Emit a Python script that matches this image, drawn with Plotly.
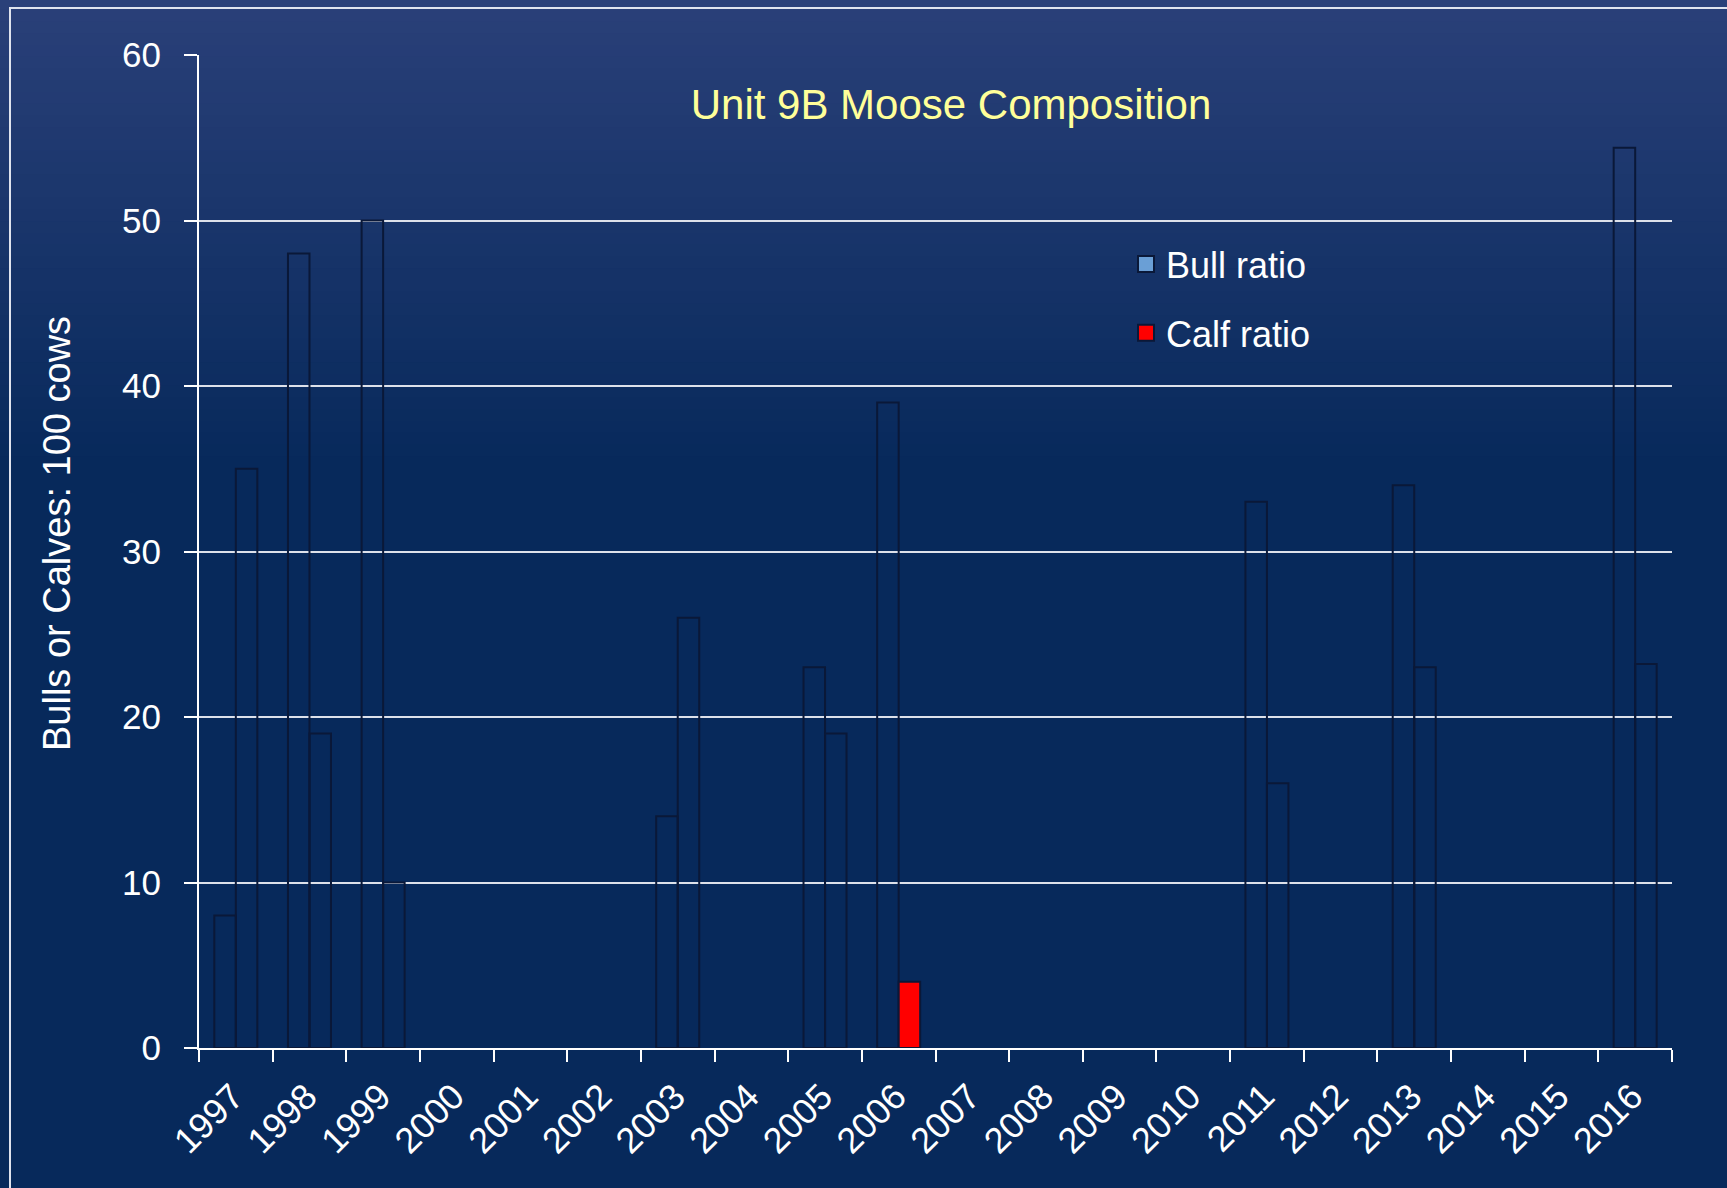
import plotly.graph_objects as go

# ---------------- data ----------------
years = [str(y) for y in range(1997, 2017)]
bull_ratio = [8, 48, 50, None, None, None, 14, None, 23, 39, None, None, None, None, 33, None, 34, None, None, 54.4]
calf_ratio = [35, 19, 10, None, None, None, 26, None, 19, 4, None, None, None, None, 16, None, 23, None, None, 23.2]
y_ticks = [0, 10, 20, 30, 40, 50, 60]

# ---------------- styling ----------------
W, H = 1727, 1188
ML, MR, MT, MB = 199, 55, 55, 140
PW, PH = W - ML - MR, H - MT - MB
FONT = "Liberation Sans Narrow, Arial Narrow, Liberation Sans, Arial, sans-serif"
OUTLINE = "#0a1838"
BG_BOTTOM = (7, 41, 91)
BG_TOP = (42, 64, 121)


def px_x(x):
    return (x - ML) / PW


def px_y(y):
    return (H - MB - y) / PH


calf_colors = ["#ff0000" if y == "2006" else "rgba(0,0,0,0)" for y in years]

fig = go.Figure()
fig.add_trace(go.Bar(
    x=years, y=bull_ratio, name="Bull ratio", showlegend=False,
    marker=dict(color="rgba(0,0,0,0)", line=dict(color=OUTLINE, width=2)),
))
fig.add_trace(go.Bar(
    x=years, y=calf_ratio, name="Calf ratio", showlegend=False,
    marker=dict(color=calf_colors, line=dict(color=OUTLINE, width=2)),
))
# legend entries
fig.add_trace(go.Scatter(
    x=[None], y=[None], mode="markers", name="Bull ratio", legendgroup="a",
    marker=dict(symbol="square", size=16, color="#6a9fd6", line=dict(color=OUTLINE, width=2)),
))
fig.add_trace(go.Scatter(
    x=[None], y=[None], mode="markers", name="Calf ratio", legendgroup="b",
    marker=dict(symbol="square", size=16, color="#ff0000", line=dict(color=OUTLINE, width=2)),
))

# gradient background bands
shapes = []
N = 40
GRAD_END = 470
for i in range(N):
    y0 = GRAD_END * i / N
    y1 = GRAD_END * (i + 1) / N + 1
    t = (i + 0.5) / N
    c = tuple(round(BG_TOP[k] + (BG_BOTTOM[k] - BG_TOP[k]) * t) for k in range(3))
    shapes.append(dict(type="rect", xref="paper", yref="paper", layer="below",
                       x0=px_x(-5), x1=px_x(W + 5), y0=px_y(y1), y1=px_y(y0 - 2),
                       fillcolor="rgb(%d,%d,%d)" % c, line=dict(width=0)))
# frame
shapes.append(dict(type="rect", xref="paper", yref="paper", layer="above",
                   x0=px_x(10), x1=px_x(W + 20), y0=px_y(H + 20), y1=px_y(8),
                   fillcolor="rgba(0,0,0,0)", line=dict(color="#dfe3ee", width=2)))

fig.update_layout(
    width=W, height=H,
    margin=dict(l=ML, r=MR, t=MT, b=MB, autoexpand=False),
    paper_bgcolor="rgb(%d,%d,%d)" % BG_BOTTOM,
    plot_bgcolor="rgba(0,0,0,0)",
    font=dict(family=FONT, color="white", size=36),
    barmode="group", bargap=0.416, bargroupgap=0,
    title=dict(text="Unit 9B Moose Composition", x=951 / W, y=1 - 104 / H,
               xanchor="center", yanchor="middle", xref="container", yref="container",
               font=dict(family=FONT, size=42, color="#ffff99")),
    legend=dict(x=px_x(1126), y=px_y(234), xanchor="left", yanchor="top",
                bgcolor="rgba(0,0,0,0)", font=dict(family=FONT, size=36, color="white"),
                tracegroupgap=19, traceorder="grouped"),
    shapes=shapes,
    annotations=[dict(text="Bulls or Calves: 100 cows", textangle=-90,
                      xref="paper", yref="paper", x=px_x(57), y=px_y(534),
                      xanchor="center", yanchor="middle", showarrow=False,
                      font=dict(family=FONT, size=38, color="white"))],
)
fig.update_xaxes(
    type="category", categoryorder="array", categoryarray=years,
    showline=True, linecolor="white", linewidth=2,
    ticks="outside", tickson="boundaries", ticklen=12, tickcolor="white", tickwidth=2,
    tickangle=-45, showgrid=False, zeroline=False, ticklabelstandoff=11, ticklabelshift=-3,
    tickfont=dict(family=FONT, size=36, color="white"),
)
fig.update_yaxes(
    range=[0, 60], tickvals=y_ticks, showline=True, linecolor="white", linewidth=2,
    ticks="outside", ticklen=13, tickcolor="white", tickwidth=2,
    showgrid=True, gridcolor="#dde1ea", gridwidth=1.5, zeroline=False,
    tickfont=dict(family=FONT, size=35, color="white"), ticklabelstandoff=16,
)

fig.write_html("out.html", config={"displayModeBar": False},
               post_script="document.body.style.margin='0px';")
